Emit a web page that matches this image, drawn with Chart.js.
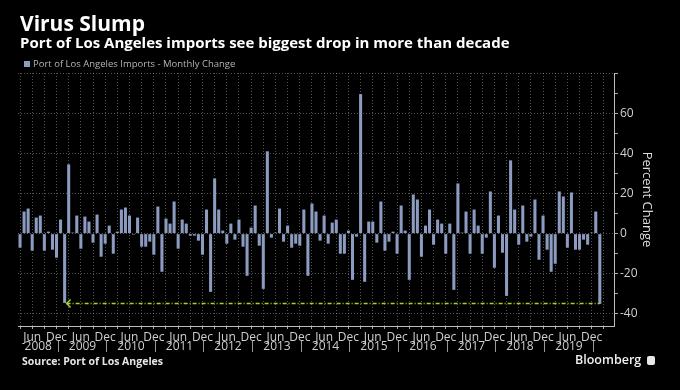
<!DOCTYPE html>
<html>
<head>
<meta charset="utf-8">
<script src="https://cdn.jsdelivr.net/npm/chart.js@4/dist/chart.umd.min.js"></script>
<style>
  body { margin: 0; background: #000; }
  #wrap { position: relative; width: 680px; height: 390px; background: #000; font-family: "Open Sans", sans-serif; overflow: hidden; }
  #wrap canvas { position: absolute; left: 0; top: 0; }
  .title { position: absolute; left: 20px; top: 13px; font-size: 21px; line-height: 21px; font-weight: bold; color: #fff; }
  .sub { position: absolute; left: 20px; top: 35px; font-size: 15px; line-height: 14px; font-weight: bold; color: #fff; }
  .legend { position: absolute; left: 24px; top: 58px; font-size: 9.5px; line-height: 11px; color: #b4b4b4; }
  .legend .box { display: inline-block; width: 6px; height: 6px; background: #8c9bc0; margin-right: 3px; vertical-align: 0px; }
  .source { position: absolute; left: 22px; top: 355px; font-size: 10.5px; line-height: 12px; font-weight: bold; color: #e6e6e6; }
  .brand { position: absolute; left: 575px; top: 352px; font-size: 12.5px; line-height: 15px; font-weight: 600; color: #f0f0f0; }
  .brand .logo { display: inline-block; width: 8px; height: 9px; background: #e8e8e8; border-radius: 2px; margin-left: 6px; vertical-align: -1px; }
</style>
</head>
<body>
<div id="wrap">
  <canvas id="mycanvas" width="680" height="390"></canvas>
  <div class="title">Virus Slump</div>
  <div class="sub">Port of Los Angeles imports see biggest drop in more than decade</div>
  <div class="legend"><span class="box"></span>Port of Los Angeles Imports - Monthly Change</div>
  <div class="source">Source: Port of Los Angeles</div>
  <div class="brand">Bloomberg<span class="logo"></span></div>
</div>
<script>
// month-over-month change in imports, percent
const change2008 = [-7, 11, 12.5, -8.5, 8, 9, -8.5, 1, -8, -12]; // Mar - Dec
const change2009 = [7, -34.5, 34.5, 0.5, 9, -7.5, 8.5, 6, -4.5, 9.5, -11.5, -5];
const change2010 = [4, -10, 1, 12, 13, 9, -0.5, 8, -6.5, -6.5, -4, -10.5];
const change2011 = [13.5, -19, 7.5, 5, 16, -7.5, 7, 5, -1, -1, -3.5, -10.5];
const change2012 = [12, -29, 27.5, 12, 1.5, -5, 5, -3, 7, -6.5, -21, 3];
const change2013 = [14, -6, -27.5, 41, -2, 0.5, 12.5, -4, 4, -7, -5, -6];
const change2014 = [12, -21, 15, 11, -3.5, 9, -5, 5.5, 7, -10, -10, 1.5];
const change2015 = [-23, -1.5, 69.5, -24, 6, 6, -4.5, 16, -8.5, -4, 1, -10];
const change2016 = [14, 1.5, -23, 19.5, 17, -11.5, 4, 12, -5.5, 7, 5, -10];
const change2017 = [5, -28, 25, 0.5, 11, -10, 12, 4, -10, -2, 21, -17];
const change2018 = [9, -9.5, -31, 36.5, 12, -5.5, 14, -4, -1.5, 17, -13, 9];
const change2019 = [-8, -19, -15, 21, 18.5, -7, 20.5, -8, -8, -3, -5.5, 0.5];
const change2020 = [11, -35]; // Jan - Feb

const monthNames = ['Jan', 'Feb', 'Mar', 'Apr', 'May', 'Jun', 'Jul', 'Aug', 'Sep', 'Oct', 'Nov', 'Dec'];
const years = [2008, 2009, 2010, 2011, 2012, 2013, 2014, 2015, 2016, 2017, 2018, 2019, 2020];
const firstMonth = 'Mar 2008';
const lastMonth = 'May 2020';   // axis runs a little past the last bar
const labeledMonths = ['Jun', 'Dec'];
const gridMonths = ['Mar', 'Jun', 'Sep', 'Dec'];
const yTicks = [-40, -20, 0, 20, 40, 60];

// dashed arrow from the Feb 2020 drop back to Feb 2009
const arrowFrom = 'Feb 2009';
const arrowTo = 'Feb 2020';
const arrowLevel = -34.5;

const barColor = '#8c9bc0';
const gridColor = 'rgba(255,255,255,0.32)';
const textColor = '#cfcfcf';

const labels = [];
years.forEach(y => monthNames.forEach(m => labels.push(m + ' ' + y)));
const months = labels.slice(labels.indexOf(firstMonth), labels.indexOf(lastMonth) + 1);

const values = [].concat(change2008, change2009, change2010, change2011, change2012, change2013,
  change2014, change2015, change2016, change2017, change2018, change2019, change2020);
while (values.length < months.length) values.push(null);

const monthOf = i => (months[i] || '').split(' ')[0];

// year row under the Jun / Dec labels, with separators at each December
const yearRow = {
  id: 'yearRow',
  afterDraw(chart) {
    const ctx = chart.ctx;
    const x = chart.scales.x;
    ctx.save();
    ctx.font = '12px "Open Sans"';
    ctx.fillStyle = textColor;
    ctx.strokeStyle = '#9a9a9a';
    ctx.lineWidth = 1;
    ctx.textAlign = 'center';
    ctx.textBaseline = 'middle';
    let prev = chart.chartArea.left;
    years.forEach(y => {
      const idx = months.indexOf('Dec ' + y);
      if (idx < 0) return;
      const sep = Math.round(x.getPixelForValue(idx)) + 1.5;
      ctx.beginPath();
      ctx.moveTo(sep, 341);
      ctx.lineTo(sep, 352);
      ctx.stroke();
      ctx.fillText(String(y), (prev + sep) / 2, 347);
      prev = sep;
    });
    ctx.restore();
  }
};

const dropArrow = {
  id: 'dropArrow',
  afterDatasetsDraw(chart) {
    const ctx = chart.ctx;
    const x1 = chart.scales.x.getPixelForValue(months.indexOf(arrowFrom)) + 1;
    const x2 = chart.scales.x.getPixelForValue(months.indexOf(arrowTo));
    const y = Math.round(chart.scales.y.getPixelForValue(arrowLevel)) + 0.5;
    ctx.save();
    ctx.strokeStyle = '#a6d22e';
    ctx.lineWidth = 1.5;
    ctx.setLineDash([4, 2, 1, 2]);
    ctx.beginPath();
    ctx.moveTo(x1 + 1, y);
    ctx.lineTo(x2, y);
    ctx.stroke();
    ctx.setLineDash([]);
    ctx.beginPath();
    ctx.moveTo(x1 + 5, y - 4);
    ctx.lineTo(x1 + 1, y);
    ctx.lineTo(x1 + 5, y + 4);
    ctx.stroke();
    ctx.restore();
  }
};

Chart.defaults.font.family = '"Open Sans", sans-serif';

new Chart(document.getElementById('mycanvas'), {
  type: 'bar',
  data: {
    labels: months,
    datasets: [{
      label: 'Port of Los Angeles Imports - Monthly Change',
      data: values,
      backgroundColor: barColor,
      borderWidth: 0,
      barPercentage: 0.75,
      categoryPercentage: 1
    }]
  },
  options: {
    responsive: false,
    animation: false,
    layout: { padding: { top: 73, left: 18, right: 0, bottom: 0 } },
    plugins: {
      legend: { display: false },
      tooltip: { enabled: false }
    },
    scales: {
      x: {
        afterFit(scale) { scale.height = 64; },
        grid: {
          offset: false,
          color: c => gridMonths.includes(monthOf(c.index)) ? gridColor : 'transparent',
          tickColor: c => gridMonths.includes(monthOf(c.index)) ? '#aaaaaa' : 'transparent',
          tickLength: 3
        },
        border: { display: true, color: '#bdbdbd', width: 1, dash: [1, 2] },
        ticks: {
          autoSkip: false,
          maxRotation: 0,
          padding: 1,
          color: textColor,
          font: { size: 12 },
          callback: (v, i) => labeledMonths.includes(monthOf(i)) ? monthOf(i) : ''
        }
      },
      y: {
        position: 'right',
        min: -46,
        max: 80,
        afterFit(scale) { scale.width = 66; },
        grid: {
          color: c => (c.tick && c.tick.value % 20 === 0) ? gridColor : 'transparent',
          tickColor: '#aaaaaa',
          tickLength: 4
        },
        border: { display: true, color: '#bdbdbd', width: 1, dash: [1, 2] },
        ticks: {
          stepSize: 10,
          includeBounds: false,
          padding: 2,
          color: textColor,
          font: { size: 12 },
          callback: v => yTicks.includes(v) ? v : ''
        },
        title: {
          display: true,
          text: 'Percent Change',
          color: '#dcdcdc',
          font: { size: 13 },
          padding: { top: 25, bottom: 0 }
        }
      }
    }
  },
  plugins: [yearRow, dropArrow]
});
</script>
</body>
</html>
